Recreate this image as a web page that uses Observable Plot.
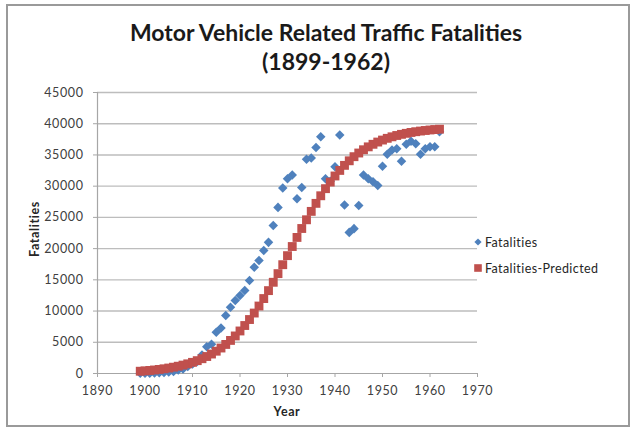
<!DOCTYPE html>
<html>
<head>
<meta charset="utf-8">
<script src="https://cdn.jsdelivr.net/npm/d3@7"></script>
<script src="https://cdn.jsdelivr.net/npm/@observablehq/plot@0.6"></script>
<style>
  html, body { margin: 0; padding: 0; background: #fff; }
  #wrap { position: relative; width: 636px; height: 432px; overflow: hidden; font-family: Lato, "Open Sans", sans-serif; background: #fff; }
  #frame { position: absolute; left: 6px; top: 4px; width: 624px; height: 423px; border: 2px solid #9a9a9a; box-sizing: border-box; }
  #title { position: absolute; left: 0; top: 18px; width: 652px; text-align: center; font-weight: bold; font-size: 23px; line-height: 29px; color: #1a1a1a; }
  #chart { position: absolute; left: 0; top: 80px; }
  #ylab { position: absolute; left: 34px; top: 229px; transform: translate(-50%, -50%) rotate(-90deg); font-weight: bold; font-size: 12.5px; letter-spacing: 0.6px; color: #262626; white-space: nowrap; }
  #xlab { position: absolute; left: 287px; top: 411px; transform: translate(-50%, -50%); font-weight: bold; font-size: 12.5px; letter-spacing: 0.6px; color: #262626; }
  #legend { position: absolute; left: 473px; top: 233px; font-size: 12.5px; letter-spacing: 0.4px; color: #262626; }
  .item { display: flex; align-items: center; height: 18px; margin-bottom: 8px; white-space: nowrap; }
  .item svg { margin-right: 2px; }
  #chart svg text { letter-spacing: 0.6px; }
</style>
</head>
<body>
<div id="wrap">
  <div id="frame"></div>
  <div id="title"></div>
  <div id="chart"></div>
  <div id="ylab"></div>
  <div id="xlab"></div>
  <div id="legend"></div>
</div>
<script>
const titleLines = ["Motor Vehicle Related Traffic Fatalities", "(1899-1962)"];
const xAxisTitle = "Year";
const yAxisTitle = "Fatalities";
const seriesNames = ["Fatalities", "Fatalities-Predicted"];
const seriesColors = ["#4F81BD", "#C0504D"];

const years = [1899,1900,1901,1902,1903,1904,1905,1906,1907,1908,1909,1910,1911,1912,1913,1914,1915,1916,1917,1918,1919,1920,1921,1922,1923,1924,1925,1926,1927,1928,1929,1930,1931,1932,1933,1934,1935,1936,1937,1938,1939,1940,1941,1942,1943,1944,1945,1946,1947,1948,1949,1950,1951,1952,1953,1954,1955,1956,1957,1958,1959,1960,1961,1962];

const fatalities = [25,35,50,75,110,165,240,320,550,710,1120,1520,1940,2950,4300,4700,6600,7300,9300,10600,11700,12500,13300,14900,17000,18100,19700,21000,23700,26600,29700,31200,31800,28000,29800,34300,34500,36200,37900,31200,30800,33100,38200,27000,22600,23200,26900,31800,31200,30700,30100,33200,35100,35800,36000,34000,36700,37200,36800,35100,36000,36300,36300,38700];

const predicted = [364,422,488,565,654,755,874,1010,1165,1344,1549,1787,2058,2367,2719,3118,3571,4081,4653,5296,6012,6810,7685,8643,9681,10804,12003,13273,14608,15992,17424,18873,20335,21788,23222,24617,25963,27247,28462,29599,30656,31631,32521,33333,34064,34722,35309,35831,36295,36706,37065,37384,37662,37904,38116,38301,38462,38601,38722,38827,38918,38997,39066,39125];

const xTicks = [1890,1900,1910,1920,1930,1940,1950,1960,1970];
const yTicks = [0,5000,10000,15000,20000,25000,30000,35000,40000,45000];

const actualData = years.map((y, i) => ({year: y, value: fatalities[i]}));
const predData = years.map((y, i) => ({year: y, value: predicted[i]}));

document.getElementById("title").innerHTML = titleLines.map(t => `<div>${t}</div>`).join("");
document.getElementById("xlab").textContent = xAxisTitle;
document.getElementById("ylab").textContent = yAxisTitle;

const axisColor = "#a6a6a6";
const plot = Plot.plot({
  width: 636,
  height: 352,
  marginLeft: 97,
  marginRight: 159,
  marginTop: 12,
  marginBottom: 59,
  style: { fontFamily: "Lato, 'Open Sans', sans-serif", fontSize: "12.5px", color: "#404040", background: "transparent", overflow: "visible" },
  x: { domain: [xTicks[0], xTicks[xTicks.length - 1]], label: null },
  y: { domain: [yTicks[0], yTicks[yTicks.length - 1]], label: null },
  marks: [
    Plot.gridY(yTicks.filter(d => d > 0), { stroke: "#bdbdbd", strokeOpacity: 1, strokeWidth: 1.4 }),
    Plot.ruleY([yTicks[0]], { stroke: axisColor, strokeWidth: 1.2 }),
    Plot.ruleX([xTicks[0]], { stroke: axisColor, strokeWidth: 1.2 }),
    Plot.axisY({ ticks: yTicks, tickSize: 4, tickPadding: 10, stroke: axisColor, tickFormat: d => String(d), label: null }),
    Plot.axisX({ ticks: xTicks, tickSize: 4, tickPadding: 9, stroke: axisColor, tickFormat: d => String(d), label: null }),
    Plot.dot(actualData, { x: "year", y: "value", symbol: "diamond2", r: 4.3, fill: seriesColors[0], stroke: "none" }),
    Plot.dot(predData, { x: "year", y: "value", symbol: "square", r: 5.0, fill: seriesColors[1], stroke: "none" })
  ]
});
document.getElementById("chart").appendChild(plot);

const legendSymbols = [
  `<svg width="10" height="10" viewBox="-5 -5 10 10"><path d="M0,-3.6L3.6,0L0,3.6L-3.6,0Z" fill="${seriesColors[0]}"/></svg>`,
  `<svg width="10" height="10" viewBox="-5 -5 10 10"><rect x="-3.8" y="-3.8" width="7.6" height="7.6" fill="${seriesColors[1]}"/></svg>`
];
document.getElementById("legend").innerHTML = seriesNames.map((n, i) =>
  `<div class="item">${legendSymbols[i]}<span>${n}</span></div>`).join("");
</script>
</body>
</html>
